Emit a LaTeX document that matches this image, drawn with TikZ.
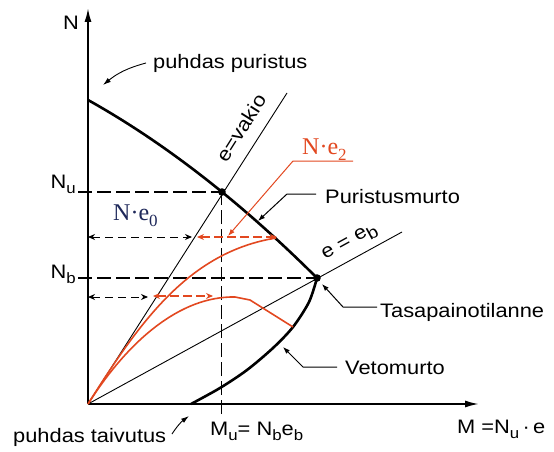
\documentclass[tikz,border=0pt]{standalone}
\usepackage{fontspec}
\setmainfont{Liberation Sans}[FakeStretch=1.12]
\newfontfamily\serifN{Liberation Serif}
\usetikzlibrary{arrows.meta}
\definecolor{redc}{RGB}{226,72,32}
\definecolor{navyc}{RGB}{30,40,90}
\newcommand\lsub[1]{\raisebox{-0.3em}{\fontsize{15}{15}\selectfont #1}}
\newcommand\ssub[1]{\raisebox{-0.25em}{\fontsize{17}{17}\selectfont #1}}
\begin{document}
\begin{tikzpicture}[x=1pt,y=-1pt,
 lab/.style={font=\fontsize{19.5}{22}\selectfont,inner sep=0pt,anchor=base west},
 serlab/.style={font=\serifN\fontsize{24}{26}\selectfont,inner sep=0pt,anchor=base west},
 axis/.style={line width=1.8pt,-{Latex[length=14pt,width=7pt]}},
 boldcurve/.style={line width=2.6pt},
 thinline/.style={line width=0.9pt},
 longdash/.style={line width=1.1pt,dash pattern=on 14pt off 5pt},
 vdash/.style={line width=0.9pt,dash pattern=on 14pt off 5pt},
 blackdash/.style={line width=1pt,dash pattern=on 8pt off 5pt,{Stealth[length=7pt,width=6pt]}-{Stealth[length=7pt,width=6pt]}},
 reddash/.style={redc,line width=1.2pt,dash pattern=on 9pt off 4pt,{Stealth[length=7pt,width=6pt]}-{Stealth[length=7pt,width=6pt]}},
 redline/.style={redc,line width=1.6pt},
 leader/.style={line width=1pt,-{Latex[length=7pt,width=5pt]}},
 redleader/.style={redc,line width=1pt,-{Latex[length=7pt,width=5pt]}},
 ]
\useasboundingbox (0,0) rectangle (554,452);

% key points
\coordinate (O) at (88,404);
\coordinate (Ntop) at (88,8);
\coordinate (Mend) at (479,404);
\coordinate (A) at (88,100);
\coordinate (P) at (222,192);
\coordinate (B) at (317,278);
\coordinate (C) at (191,404);
\coordinate (Vtop) at (287,93);
\coordinate (Ebtop) at (402,232);
\coordinate (NuL) at (78,192);
\coordinate (NbL) at (78,278);
\coordinate (MuB) at (221,414);

% axes
\draw[axis] (O) -- (Ntop);
\draw[axis] (O) -- (Mend);

% dashed reference lines
\draw[longdash] (NuL) -- (P);
\draw[longdash] (NbL) -- (B);
\draw[vdash] (MuB) -- (221,192);

% eccentricity lines
\draw[thinline] (O) -- (Vtop);
\draw[thinline] (O) -- (Ebtop);
\node[lab,anchor=center,rotate=57.7] (ev) at (241,128) {e=vakio};
\node[lab,anchor=center,rotate=28.8] (eb) at (350,243) {e = e\ssub{b}};

% interaction curve
\draw[boldcurve] (A) .. controls (164.3,142.6) and (240.6,201.9) .. (B);
\draw[boldcurve] plot[smooth] coordinates {(317,278) (309,302) (293,327) (273,348) (247,370) (220,388) (191,404)};
\fill (P) circle (3.8);
\fill (B) circle (3.8);

% red load paths
\draw[redline] (O) .. controls (141,319.5) and (190,252) .. (276,238);
\draw[redline] (O) .. controls (128,341) and (180,296) .. (235,297) -- (250,300) -- (293,327);

% dashed arrows
\coordinate (a1) at (88,237); \coordinate (a2) at (192,237);
\coordinate (a3) at (197,237); \coordinate (a4) at (277,237);
\coordinate (b1) at (88,297); \coordinate (b2) at (148,297);
\coordinate (b3) at (153,296); \coordinate (b4) at (213,296);
\draw[blackdash] (a1) -- (a2);
\draw[blackdash] (b1) -- (b2);
\draw[reddash] (a3) -- (a4);
\draw[reddash] (b3) -- (b4);

% labels
\node[lab] (N) at (63,30) {N};
\node[lab,anchor=base east] (Nu) at (76,188) {N\lsub{u}};
\node[lab,anchor=base east] (Nb) at (76,278) {N\lsub{b}};
\node[lab] (pp) at (153,68) {puhdas puristus};
\node[lab] (pt) at (13,442) {puhdas taivutus};
\node[lab] (Mu) at (210,435) {M\lsub{u}= N\lsub{b}e\lsub{b}};
\node[lab] (Mlab) at (457,433) {M =N\lsub{u}\,·\,e};
\node[lab] (pm) at (325,203) {Puristusmurto};
\node[lab] (tt) at (380,317) {Tasapainotilanne};
\node[lab] (vm) at (345,374) {Vetomurto};
\node[serlab,text=redc] (Ne2) at (302,154) {N·e\ssub{2}};
\node[serlab,text=navyc] (Ne0) at (113,220) {N·e\ssub{0}};

% leaders
\coordinate (pms) at (316,194);
\coordinate (pmk) at (287,194);
\coordinate (pmt) at (258,221);
\draw[leader] (pms) -- (pmk) -- (pmt);
\coordinate (tts) at (377,307);
\coordinate (ttk) at (343,307);
\coordinate (ttt) at (322,284);
\draw[leader] (tts) -- (ttk) -- (ttt);
\coordinate (vms) at (337,367);
\coordinate (vmk) at (303,367);
\coordinate (vmt) at (283,347);
\draw[leader] (vms) -- (vmk) -- (vmt);
\coordinate (ne2a) at (353,161);
\coordinate (ne2k) at (293,161);
\coordinate (ne2t) at (228,236);
\draw[redleader] (ne2a) -- (ne2k) -- (ne2t);

% pointer arrows
\coordinate (pps) at (146,63);
\coordinate (ppt) at (103,85);
\draw[thinline,-{Latex[length=8pt,width=5pt]}] (pps) to[bend right=12] (ppt);
\coordinate (pts) at (172,434);
\coordinate (ptt) at (189,416);
\draw[thinline,-{Latex[length=8pt,width=5pt]}] (pts) to[bend left=10] (ptt);
\end{tikzpicture}
\end{document}
